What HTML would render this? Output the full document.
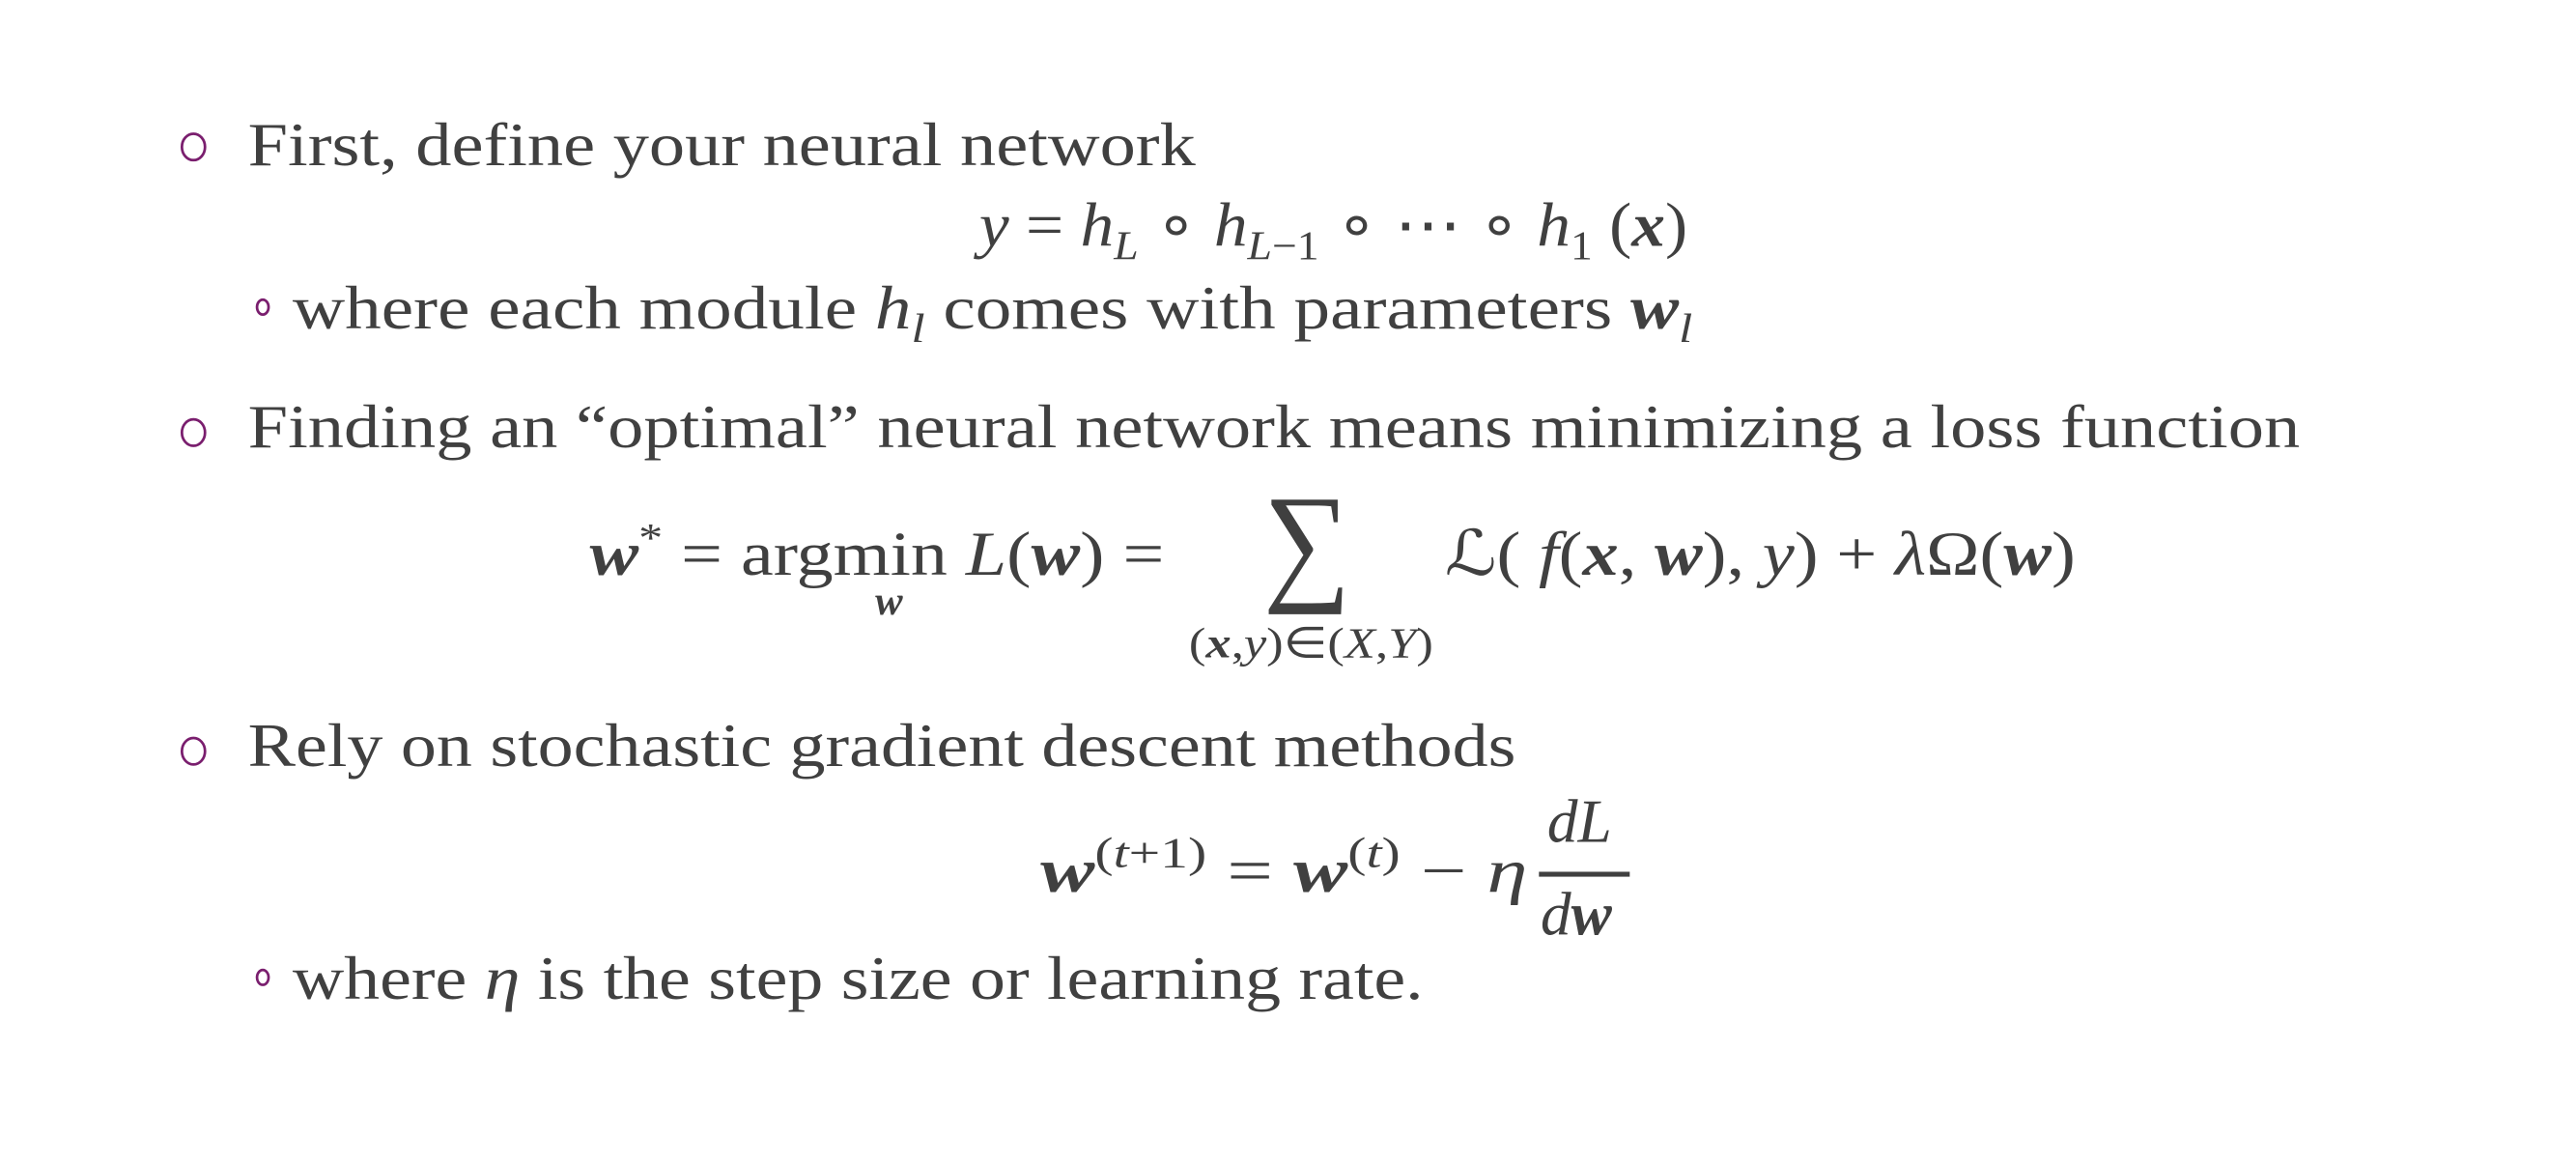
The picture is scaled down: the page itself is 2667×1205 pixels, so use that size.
<!DOCTYPE html>
<html><head><meta charset="utf-8"><style>
html,body{margin:0;padding:0;background:#fff;width:2667px;height:1205px;overflow:hidden}
svg{display:block}
text{font-family:"Liberation Serif",serif;fill:#404040}
.m{font-style:italic}
.b{font-weight:bold;font-style:italic}
</style></head><body>
<svg width="2667" height="1205" viewBox="0 0 1560 705" xmlns="http://www.w3.org/2000/svg">
<g fill="none" stroke="#7a1e6e" stroke-width="1.6">
<ellipse cx="117" cy="89" rx="7" ry="8"/>
<ellipse cx="117" cy="262" rx="7" ry="8"/>
<ellipse cx="117" cy="455" rx="7" ry="8"/>
<ellipse cx="159" cy="186" rx="3.5" ry="4.5"/>
<ellipse cx="159" cy="592" rx="3.5" ry="4.5"/>
</g>
<text x="150" y="100" font-size="37" textLength="574" lengthAdjust="spacingAndGlyphs">First, define your neural network</text>
<text x="593" y="149" font-size="38" textLength="429" lengthAdjust="spacingAndGlyphs"><tspan class="m">y</tspan> = <tspan class="m">h</tspan><tspan class="m" font-size="25" dy="8">L</tspan><tspan dy="-8"> ∘ </tspan><tspan class="m">h</tspan><tspan class="m" font-size="25" dy="8">L</tspan><tspan font-size="25">−1</tspan><tspan dy="-8"> ∘ ⋯ ∘ </tspan><tspan class="m">h</tspan><tspan font-size="25" dy="8">1</tspan><tspan dy="-8"> (</tspan><tspan class="b">x</tspan>)</text>
<text x="177" y="199" font-size="37" textLength="848" lengthAdjust="spacingAndGlyphs">where each module <tspan class="m">h</tspan><tspan class="m" font-size="25" dy="8">l</tspan><tspan dy="-8"> comes with parameters </tspan><tspan class="b">w</tspan><tspan class="m" font-size="25" dy="8">l</tspan></text>
<text x="150" y="271" font-size="37" textLength="1243" lengthAdjust="spacingAndGlyphs">Finding an “optimal” neural network means minimizing a loss function</text>
<text x="357" y="348" font-size="38" textLength="348" lengthAdjust="spacingAndGlyphs"><tspan class="b">w</tspan><tspan font-size="25" dy="-14">*</tspan><tspan dy="14"> = argmin </tspan><tspan class="m">L</tspan>(<tspan class="b">w</tspan>) =</text>
<text x="530" y="372" font-size="25" class="b">w</text>
<text x="765" y="355" font-size="80" textLength="53" lengthAdjust="spacingAndGlyphs">∑</text>
<text x="720" y="398" font-size="26" textLength="148" lengthAdjust="spacingAndGlyphs">(<tspan class="b">x</tspan>,<tspan class="m">y</tspan>)∈(<tspan class="m">X</tspan>,<tspan class="m">Y</tspan>)</text>
<text x="875" y="348" font-size="38" textLength="382" lengthAdjust="spacingAndGlyphs">ℒ( <tspan class="m">f</tspan>(<tspan class="b">x</tspan>, <tspan class="b">w</tspan>), <tspan class="m">y</tspan>) + <tspan class="m">λ</tspan>Ω(<tspan class="b">w</tspan>)</text>
<text x="150" y="464" font-size="37" textLength="768" lengthAdjust="spacingAndGlyphs">Rely on stochastic gradient descent methods</text>
<text x="630" y="540" font-size="38" textLength="295" lengthAdjust="spacingAndGlyphs"><tspan class="b">w</tspan><tspan font-size="26" dy="-15">(<tspan class="m">t</tspan>+1)</tspan><tspan dy="15"> = </tspan><tspan class="b">w</tspan><tspan font-size="26" dy="-15">(<tspan class="m">t</tspan>)</tspan><tspan dy="15"> − </tspan><tspan class="m">η</tspan></text>
<text x="937" y="510" font-size="37" class="m">dL</text>
<rect x="932" y="528" width="55" height="3" fill="#404040"/>
<text x="933" y="566" font-size="37"><tspan class="m">d</tspan><tspan class="b">w</tspan></text>
<text x="177" y="605" font-size="37" textLength="685" lengthAdjust="spacingAndGlyphs">where <tspan class="m">η</tspan> is the step size or learning rate.</text>
</svg>
</body></html>
